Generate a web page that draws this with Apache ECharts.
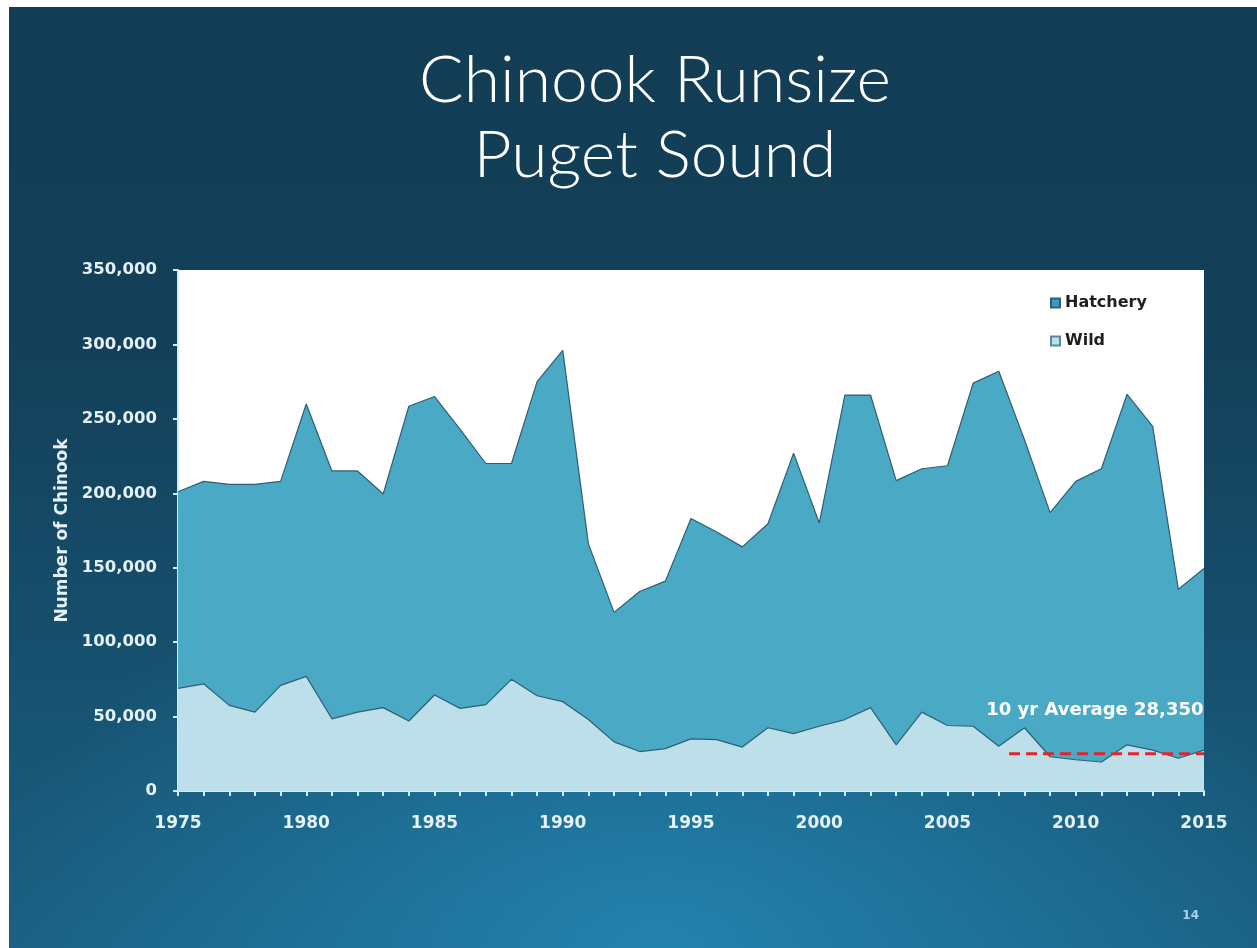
<!DOCTYPE html>
<html>
<head>
<meta charset="utf-8">
<script src="https://cdn.jsdelivr.net/npm/echarts@6/dist/echarts.min.js"></script>
<style>
html,body{margin:0;padding:0;width:1257px;height:948px;background:#ffffff;overflow:hidden;}
#slide{position:absolute;left:9px;top:7px;width:1248px;height:941px;
background:
radial-gradient(ellipse 55% 45% at 52% 100%, rgba(36,136,182,0.85) 0%, rgba(36,136,182,0) 100%),
linear-gradient(180deg,#123d55 0%,#133f58 35%,#175372 75%,#1a5f82 100%);}
#chart{position:absolute;left:0;top:0;width:1257px;height:948px;}
</style>
</head>
<body>
<div id="slide"></div>
<div id="chart"></div>
<script>
// Data
var years = ['1975','1976','1977','1978','1979','1980','1981','1982','1983','1984','1985','1986','1987','1988','1989','1990','1991','1992','1993','1994','1995','1996','1997','1998','1999','2000','2001','2002','2003','2004','2005','2006','2007','2008','2009','2010','2011','2012','2013','2014','2015'];
var wildRun = [69000,72000,57500,53000,71000,77000,48500,53000,56000,47000,64500,55500,58000,75000,64000,60000,48000,33000,26500,28500,35000,34500,29500,42500,38500,43500,48000,56000,31000,53000,44000,43500,30000,42500,23000,21000,19500,31000,27500,22000,27500];
var hatcheryRun = [132000,136000,148500,153000,137000,183000,166500,162000,143500,211500,200500,187500,162000,145000,211000,236000,118000,87000,107500,112500,148000,139500,134500,137000,188500,136500,218000,210000,177500,163500,174500,230500,252000,193500,164000,187000,197000,235500,217500,113500,122000];
var avgLineStart = 2007.4, avgLineEnd = 2015, avgLineValue = 25000;
var avgLabel = '10 yr Average 28,350';
var avgLabelValue = 54000;
var titleText = 'Chinook Runsize\nPuget Sound';
var yAxisName = 'Number of Chinook';
var seriesNames = ['Hatchery','Wild'];
var pageNumber = '14';

var chart = echarts.init(document.getElementById('chart'), null, {renderer:'canvas'});
var labelColor = '#e4f2f7';
var axisColor = '#d4ecf3';
var lblFont = 'DejaVu Sans';
chart.setOption({
  backgroundColor: 'transparent',
  animation: false,
  title: {
    text: titleText,
    left: 650,
    textAlign: 'center',
    top: 38,
    textStyle: {color:'#ffffff', fontFamily:'Lato', fontWeight: 300, fontSize: 66, lineHeight: 75}
  },
  legend: {
    data: seriesNames,
    orient: 'vertical',
    left: 1045,
    top: 290,
    itemGap: 22,
    itemWidth: 9,
    itemHeight: 9,
    icon: 'rect',
    textStyle: {color:'#1e1e1e', fontFamily:lblFont, fontWeight:'bold', fontSize: 16}
  },
  grid: {left:178, right:53, top:270, bottom:157, show:true, backgroundColor:'#ffffff', borderWidth:0},
  xAxis: [{
    type: 'category', data: years, boundaryGap: false,
    axisLine: {lineStyle:{color:axisColor, width:2}},
    axisTick: {show:true, interval:0, length:5, lineStyle:{color:axisColor, width:2}},
    splitLine: {show:false},
    axisLabel: {interval:4, color: labelColor, fontFamily:lblFont, fontWeight:'bold', fontSize:17, margin:24}
  }, {
    type: 'value', min: 1975, max: 2015, show: false
  }],
  yAxis: {
    type: 'value', min: 0, max: 350000, interval: 50000,
    name: yAxisName, nameLocation: 'middle', nameGap: 106, nameRotate: 90,
    nameTextStyle: {color: labelColor, fontFamily:lblFont, fontWeight:'bold', fontSize:17},
    axisLine: {show:true, lineStyle:{color:axisColor, width:2}},
    axisTick: {show:true, length:5, lineStyle:{color:axisColor, width:2}},
    splitLine: {show:false},
    axisLabel: {color: labelColor, fontFamily:lblFont, fontWeight:'bold', fontSize:16.5, margin:21,
      formatter: function(v){ return v.toLocaleString('en-US'); }}
  },
  series: [
    {
      name: 'Wild', type: 'line', stack: 'run', showSymbol: false, symbol:'none',
      data: wildRun,
      lineStyle: {color:'#2d5e72', width:1.2},
      itemStyle: {color:'#bcdfea', borderColor:'#5a8a9a', borderWidth:1},
      areaStyle: {color:'#bcdfea', opacity:1}
    },
    {
      name: 'Hatchery', type: 'line', stack: 'run', showSymbol: false, symbol:'none',
      data: hatcheryRun,
      lineStyle: {color:'#2d5e72', width:1.2},
      itemStyle: {color:'#3f9ab7', borderColor:'#2a6276', borderWidth:1},
      areaStyle: {color:'#4aaac6', opacity:1}
    },
    {
      name: 'avg', type: 'line', xAxisIndex: 1, symbol: 'none', silent: true, z: 5,
      data: [[avgLineStart, avgLineValue], [avgLineEnd, avgLineValue]],
      lineStyle: {color:'#e3242b', width:3, type:[11,6]},
      markPoint: {
        silent: true, symbol: 'rect', symbolSize: 1,
        itemStyle: {color:'rgba(0,0,0,0)'},
        label: {show:true, position:'left', distance:0, formatter: avgLabel, color:'#ffffff',
          fontFamily:lblFont, fontWeight:'bold', fontSize:18},
        data: [{coord:[avgLineEnd, avgLabelValue]}]
      }
    }
  ],
  graphic: [
    {type:'text', right: 58, bottom: 26, style:{text: pageNumber, fill:'#a9d4e6', font:'bold 12px DejaVu Sans'}}
  ]
});
</script>
</body>
</html>
